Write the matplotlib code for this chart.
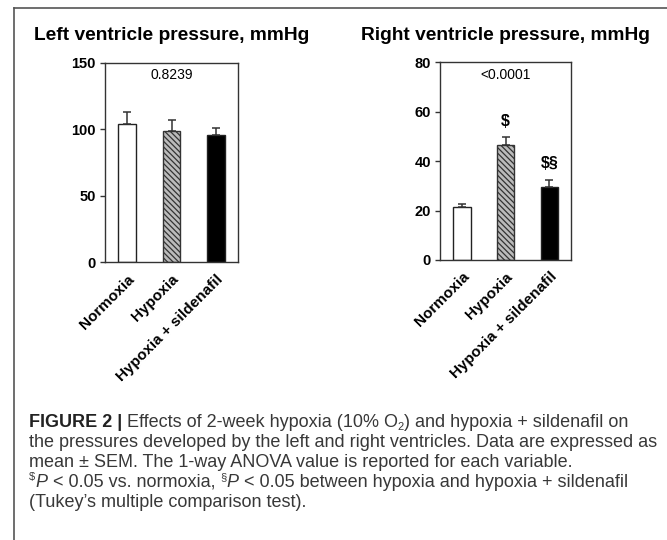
import matplotlib
matplotlib.use("Agg")
import matplotlib.pyplot as plt
from matplotlib.lines import Line2D

plt.rcParams['font.family'] = ['Liberation Sans', 'DejaVu Sans']
plt.rcParams['hatch.linewidth'] = 0.9

# ---- data ----
groups = ["Normoxia", "Hypoxia", "Hypoxia + sildenafil"]
lv_mean = [104, 99, 96]
lv_sem = [9, 8, 5]
rv_mean = [21.4, 46.4, 29.4]
rv_sem = [1.1, 3.4, 3.1]
lv_title = "Left ventricle pressure, mmHg"
rv_title = "Right ventricle pressure, mmHg"
lv_anova = "0.8239"
rv_anova = "<0.0001"
rv_marks = ["", r"\$", r"\$§"]
lv_ticks = [0, 50, 100, 150]
rv_ticks = [0, 20, 40, 60, 80]

# caption: each line is a list of (text, style, leading_space)
caption_lines = [
    [("FIGURE 2 |", "bold", False), ("Effects of 2-week hypoxia (10% O", "normal", True),
     ("2", "sub", False), (") and hypoxia + sildenafil on", "normal", False)],
    [("the pressures developed by the left and right ventricles. Data are expressed as",
      "normal", False)],
    [("mean \u00b1 SEM. The 1-way ANOVA value is reported for each variable.",
      "normal", False)],
    [(r"\$", "sup", False), ("P", "italic", False), ("< 0.05 vs. normoxia,", "normal", True),
     ("§", "sup", True), ("P", "italic", False),
     ("< 0.05 between hypoxia and hypoxia + sildenafil", "normal", True)],
    [("(Tukey\u2019s multiple comparison test).", "normal", False)],
]

W, H = 667, 540
fig = plt.figure(figsize=(W / 100, H / 100), dpi=100)

faces = ['white', '#bbbbbb', 'black']
edges = ['#222222', '#333333', '#222222']
hatches = [None, '\\\\\\\\\\\\', None]

def panel(rect, means, sems, ticks, title, anova, marks=None):
    ax = fig.add_axes(rect)
    x = list(range(len(groups)))
    for i in x:
        ax.bar(i, means[i], width=0.4, color=faces[i], edgecolor=edges[i],
               linewidth=1.0, hatch=hatches[i], zorder=2)
    ax.errorbar(x, means, yerr=[[0] * len(sems), sems], fmt='none',
                ecolor='#333333', elinewidth=1.1, capsize=3, capthick=1.1, zorder=3)
    ax.set_xlim(-0.5, 2.5)
    ax.set_ylim(ticks[0], ticks[-1])
    ax.set_yticks(ticks)
    ax.set_xticks(x)
    ax.set_xticklabels(groups, rotation=45, ha='right', va='top',
                       rotation_mode='anchor', fontweight='bold', fontsize=11)
    ax.tick_params(axis='x', length=0, pad=7)
    ax.tick_params(axis='y', length=3.5, width=1, color='#333333', pad=3,
                   labelsize=10.5)
    for lab in ax.get_yticklabels():
        lab.set_fontweight('bold')
    for s in ax.spines.values():
        s.set_color('#333333')
        s.set_linewidth(1.0)
    ax.text(0.5, 0.937, anova, transform=ax.transAxes, ha='center', va='center',
            fontsize=10)
    if marks:
        for i, m in enumerate(marks):
            if m:
                ax.annotate(m, xy=(i, means[i] + sems[i]), xytext=(0, 6),
                            textcoords='offset points', ha='center', va='bottom',
                            fontsize=11.5, fontweight='bold')
    cx = rect[0] + rect[2] / 2
    fig.text(cx, 1 - 39.5 / H, title, ha='center', va='baseline',
             fontsize=13.8, fontweight='bold')
    return ax

panel([105 / W, 1 - 262.3 / H, 133 / W, 199.6 / H], lv_mean, lv_sem, lv_ticks,
      lv_title, lv_anova)
panel([440 / W, 1 - 260 / H, 131.3 / W, 197.7 / H], rv_mean, rv_sem, rv_ticks,
      rv_title, rv_anova, rv_marks)

# frame lines (page border)
fig.add_artist(Line2D([14 / W, 1], [1 - 8 / H, 1 - 8 / H], color='#555555',
                      linewidth=1.2, transform=fig.transFigure))
fig.add_artist(Line2D([14 / W, 14 / W], [1 - 8 / H, 0], color='#555555',
                      linewidth=1.2, transform=fig.transFigure))

# caption
cap_ax = fig.add_axes([0, 0, 1, 1], zorder=-1)
cap_ax.axis('off')
cap_x = 29 / W
base0 = 426.7
step = 20.0
fs = 13
space_pt = fs * 0.278
cap_col = '#383838'
styles = {
    "normal": dict(fontsize=fs, color=cap_col),
    "bold": dict(fontsize=fs, fontweight='bold', color='#222222'),
    "italic": dict(fontsize=fs, fontstyle='italic', color=cap_col),
    "sup": dict(fontsize=fs * 0.62, color=cap_col),
    "sub": dict(fontsize=fs * 0.62, color=cap_col),
}
rise = {"normal": 0, "bold": 0, "italic": 0, "sup": fs * 0.38, "sub": -fs * 0.2}
tight = {"normal": 0.4, "bold": 0.4, "italic": 0.3, "sup": 0.4, "sub": -0.9}

for k, pieces in enumerate(caption_lines):
    yb = 1 - (base0 + k * step) / H
    prev = None
    for text, st, lead in pieces:
        gap = space_pt if lead else tight[st]
        if prev is None:
            prev = cap_ax.annotate(text, xy=(cap_x, yb), xycoords='figure fraction',
                                   xytext=(0, rise[st]), textcoords='offset points',
                                   ha='left', va='baseline', **styles[st])
        else:
            prev = cap_ax.annotate(text, xy=(1, yb), xycoords=(prev, 'figure fraction'),
                                   xytext=(gap, rise[st]), textcoords='offset points',
                                   ha='left', va='baseline', **styles[st])

fig.savefig("out.png", dpi=100)
